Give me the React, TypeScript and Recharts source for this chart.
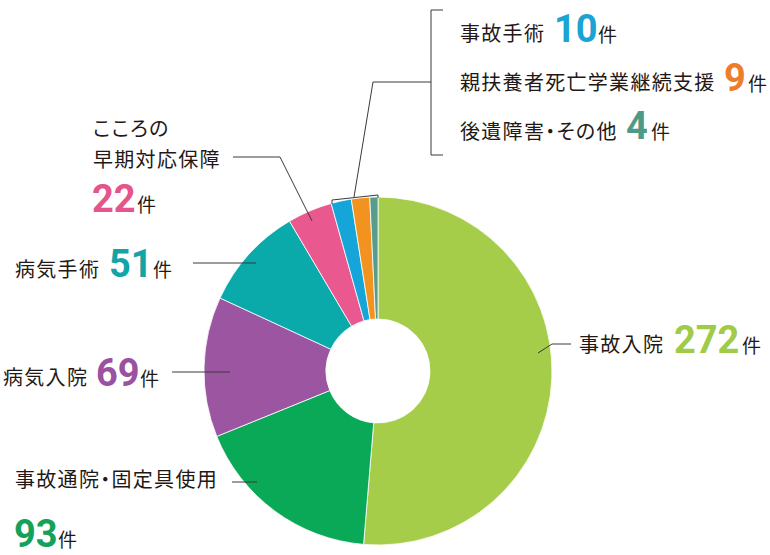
import React from "react";
import { PieChart, Pie, Cell } from "recharts";

const categories = [
  "事故入院",
  "事故通院・固定具使用",
  "病気入院",
  "病気手術",
  "こころの早期対応保障",
  "事故手術",
  "親扶養者死亡学業継続支援",
  "後遺障害・その他",
];
const counts = [272, 93, 69, 51, 22, 10, 9, 4];
const colors = ["#a5cd4a", "#0aa958", "#9c55a1", "#0aa9aa", "#e9598f", "#16a5d8", "#f3931f", "#579c8c"];
const numColors = ["#9fcb47", "#14a15a", "#9a52a0", "#12a4a6", "#e4558b", "#1aa3d3", "#ee7d2b", "#4f9a86"];
const unit = "件";

const data = categories.map((name, i) => ({ name, value: counts[i] }));

// label layout (annotation positions)
type Part = { t: string; x: number; y: number; kind: "txt" | "num" | "unit"; ci?: number };
const W = 770;
const H = 555;
const CX = 378;
const CY = 371;

const labelParts: Part[] = [
  { t: categories[0], x: 579, y: 352, kind: "txt" },
  { t: String(counts[0]), x: 674, y: 353, kind: "num", ci: 0 },
  { t: unit, x: 742, y: 353, kind: "unit" },

  { t: "事故通院・固定具使用", x: 15, y: 487, kind: "txt" },
  { t: String(counts[1]), x: 14, y: 547, kind: "num", ci: 1 },
  { t: unit, x: 58, y: 547, kind: "unit" },

  { t: categories[2], x: 3, y: 385, kind: "txt" },
  { t: String(counts[2]), x: 96, y: 386, kind: "num", ci: 2 },
  { t: unit, x: 140, y: 386, kind: "unit" },

  { t: categories[3], x: 15, y: 277, kind: "txt" },
  { t: String(counts[3]), x: 109, y: 277, kind: "num", ci: 3 },
  { t: unit, x: 153, y: 277, kind: "unit" },

  { t: "こころの", x: 93, y: 136, kind: "txt" },
  { t: "早期対応保障", x: 93, y: 167, kind: "txt" },
  { t: String(counts[4]), x: 92, y: 212, kind: "num", ci: 4 },
  { t: unit, x: 137, y: 212, kind: "unit" },

  { t: categories[5], x: 460, y: 41, kind: "txt" },
  { t: String(counts[5]), x: 554, y: 42, kind: "num", ci: 5 },
  { t: unit, x: 598, y: 42, kind: "unit" },

  { t: categories[6], x: 460, y: 90, kind: "txt" },
  { t: String(counts[6]), x: 724, y: 91, kind: "num", ci: 6 },
  { t: unit, x: 748, y: 91, kind: "unit" },

  { t: categories[7], x: 460, y: 139, kind: "txt" },
  { t: String(counts[7]), x: 626, y: 139, kind: "num", ci: 7 },
  { t: unit, x: 651, y: 139, kind: "unit" },
];

const leaderLines: string[] = [
  "538,353 552,344 571,344",
  "172,372 230,372",
  "193,263 256,263",
  "233,157 280,157 312,221",
  "232,482 257,482",
  "332,204 332,200 378,195 378,198",
  "354,197 373,82 431,82",
  "443,10 431,10 431,155 443,155",
];

const jp = '"Noto Sans CJK JP", "Noto Sans", sans-serif';
const numFont = 'Roboto, "DejaVu Sans", sans-serif';

export default function App() {
  return (
    <div style={{ position: "absolute", left: 0, top: 0, width: W, height: H, background: "#fff" }}>
      <PieChart width={W} height={H} margin={{ top: 0, right: 0, bottom: 0, left: 0 }}>
        <Pie
          data={data}
          dataKey="value"
          nameKey="name"
          cx={CX}
          cy={CY}
          innerRadius={52}
          outerRadius={174}
          startAngle={90}
          endAngle={-270}
          stroke="#ffffff"
          strokeWidth={0.8}
          isAnimationActive={false}
          label={false}
          labelLine={false}
        >
          {data.map((d, i) => (
            <Cell key={d.name} fill={colors[i]} />
          ))}
        </Pie>
      </PieChart>
      <svg
        width={W}
        height={H}
        style={{ position: "absolute", left: 0, top: 0, pointerEvents: "none" }}
      >
        {leaderLines.map((p, i) => (
          <polyline key={i} points={p} fill="none" stroke="#3a3a3a" strokeWidth={1} />
        ))}
        {labelParts.map((p, i) => {
          if (p.kind === "num") {
            return (
              <text key={i} x={p.x} y={p.y} fill={numColors[p.ci!]} fontFamily={numFont} fontWeight={700} fontSize={38}>
                {p.t}
              </text>
            );
          }
          if (p.kind === "unit") {
            return (
              <text key={i} x={p.x} y={p.y} fill="#231815" fontFamily={jp} fontSize={19}>
                {p.t}
              </text>
            );
          }
          return (
            <text
              key={i}
              x={p.x}
              y={p.y}
              fill="#231815"
              fontFamily={jp}
              fontSize={20}
              letterSpacing={1.3}
              style={{ fontFeatureSettings: '"palt"' }}
            >
              {p.t}
            </text>
          );
        })}
      </svg>
    </div>
  );
}
